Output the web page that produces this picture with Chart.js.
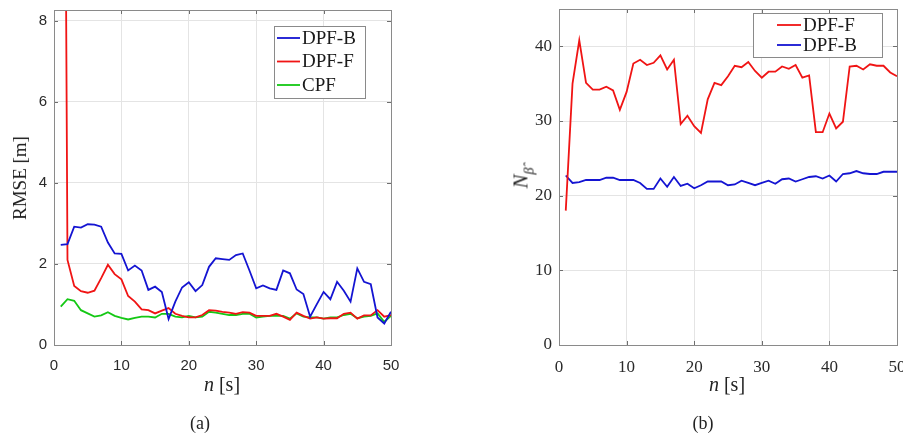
<!DOCTYPE html>
<html>
<head>
<meta charset="utf-8">
<script src="https://cdn.jsdelivr.net/npm/chart.js@4/dist/chart.umd.min.js"></script>
<style>
  html, body { margin:0; padding:0; background:#fff; width:903px; height:434px; overflow:hidden; }
  .panel { position:absolute; top:0; height:400px; }
  .lbl { position:absolute; font-family:"Liberation Serif", serif; color:#222; white-space:nowrap; }
  .it { font-style:italic; }
</style>
</head>
<body>
<div class="panel" style="left:0;width:451px;"><canvas id="cA" width="451" height="400"></canvas></div>
<div class="panel" style="left:451px;width:490px;"><canvas id="cB" width="490" height="400"></canvas></div>

<div class="lbl" style="left:20px;top:178px;font-size:19px;transform:translate(-50%,-50%) rotate(-90deg);">RMSE [m]</div>
<div class="lbl" style="left:222px;top:384px;font-size:20px;transform:translate(-50%,-50%);"><span class="it">n</span> [s]</div>
<div class="lbl" style="left:200px;top:423px;font-size:18px;transform:translate(-50%,-50%);">(a)</div>

<div class="lbl" style="left:521px;top:178px;font-size:21px;transform:translate(-50%,-50%) rotate(-90deg);"><span class="it">N</span><span class="it" style="font-size:14px;position:relative;top:6px;">β̂</span></div>
<div class="lbl" style="left:727px;top:384px;font-size:20px;transform:translate(-50%,-50%);"><span class="it">n</span> [s]</div>
<div class="lbl" style="left:703px;top:423px;font-size:18px;transform:translate(-50%,-50%);">(b)</div>

<script>
// ---------- data ----------
const timeSteps = [1,2,3,4,5,6,7,8,9,10,11,12,13,14,15,16,17,18,19,20,21,22,23,24,25,26,27,28,29,30,31,32,33,34,35,36,37,38,39,40,41,42,43,44,45,46,47,48,49,50];

// (a) RMSE [m]
const rmseDPFB = [2.47,2.49,2.92,2.90,2.98,2.97,2.92,2.53,2.26,2.25,1.84,1.96,1.84,1.36,1.44,1.31,0.64,1.07,1.42,1.55,1.33,1.48,1.93,2.14,2.12,2.10,2.22,2.26,1.84,1.40,1.47,1.40,1.36,1.84,1.77,1.37,1.26,0.70,1.01,1.31,1.13,1.56,1.34,1.07,1.89,1.56,1.50,0.68,0.53,0.82];
const rmseDPFF = [33.0,2.10,1.46,1.33,1.29,1.34,1.65,1.98,1.75,1.62,1.21,1.07,0.88,0.86,0.78,0.85,0.91,0.77,0.72,0.68,0.68,0.74,0.86,0.85,0.82,0.80,0.77,0.81,0.80,0.72,0.72,0.72,0.77,0.70,0.62,0.80,0.72,0.65,0.68,0.65,0.66,0.66,0.77,0.80,0.65,0.73,0.73,0.86,0.70,0.74];
const rmseCPF  = [0.95,1.13,1.09,0.86,0.78,0.70,0.73,0.81,0.72,0.67,0.63,0.67,0.70,0.70,0.68,0.77,0.77,0.70,0.68,0.72,0.68,0.70,0.82,0.80,0.77,0.74,0.74,0.77,0.77,0.68,0.70,0.72,0.72,0.72,0.65,0.78,0.70,0.68,0.68,0.65,0.68,0.68,0.74,0.77,0.66,0.70,0.72,0.78,0.57,0.72];

// (b) N_beta
const nDPFF = [18.0,35.0,40.8,35.1,34.2,34.2,34.6,34.1,31.5,33.9,37.7,38.2,37.5,37.8,38.8,36.9,38.2,29.6,30.7,29.3,28.4,32.9,35.1,34.8,36.0,37.4,37.2,37.9,36.7,35.8,36.6,36.6,37.3,37.0,37.5,35.8,36.1,28.5,28.5,31.0,29.0,29.9,37.3,37.4,36.9,37.6,37.4,37.4,36.5,36.0];
const nDPFB = [22.7,21.7,21.8,22.1,22.1,22.1,22.4,22.4,22.1,22.1,22.1,21.7,20.9,20.9,22.3,21.2,22.5,21.3,21.6,21.0,21.4,21.9,21.9,21.9,21.4,21.5,22.0,21.7,21.4,21.7,22.0,21.6,22.2,22.3,21.9,22.2,22.5,22.6,22.3,22.7,21.9,22.9,23.0,23.3,23.0,22.9,22.9,23.2,23.2,23.2];

const xTicks = [0,10,20,30,40,50];
const yTicksA = [0,2,4,6,8];
const yTicksB = [0,10,20,30,40];

const BLUE = '#1414d2', RED = '#f01414', GREEN = '#14c814';

function pts(vals){ return timeSteps.map((t,i)=>({x:t,y:vals[i]})); }

// box + inward ticks + legend
const boxPlugin = {
  id:'box',
  afterDraw(chart, args, opts){
    const ctx = chart.ctx, a = chart.chartArea;
    const xs = chart.scales.x, ys = chart.scales.y;
    ctx.save();
    ctx.strokeStyle = '#6e6e6e';
    ctx.lineWidth = 1;
    ctx.beginPath();
    opts.xt.forEach(v=>{ const p=Math.round(xs.getPixelForValue(v))+0.5;
      ctx.moveTo(p,a.bottom); ctx.lineTo(p,a.bottom-4);
      ctx.moveTo(p,a.top); ctx.lineTo(p,a.top+4); });
    opts.yt.forEach(v=>{ const p=Math.round(ys.getPixelForValue(v))+0.5;
      ctx.moveTo(a.left,p); ctx.lineTo(a.left+4,p);
      ctx.moveTo(a.right,p); ctx.lineTo(a.right-4,p); });
    ctx.stroke();
    ctx.strokeStyle = '#8a8a8a';
    ctx.strokeRect(Math.round(a.left)+0.5, Math.round(a.top)+0.5, Math.round(a.right-a.left), Math.round(a.bottom-a.top));
    const L = opts.legend;
    ctx.fillStyle = '#fff';
    ctx.fillRect(L.x, L.y, L.w, L.h);
    ctx.strokeStyle = '#8a8a8a';
    ctx.strokeRect(L.x+0.5, L.y+0.5, L.w, L.h);
    ctx.font = L.font;
    ctx.textBaseline = 'middle';
    ctx.textAlign = 'left';
    L.order.forEach((di,k)=>{
      const ds = chart.data.datasets[di];
      const yy = L.y + L.first + k*L.step;
      ctx.strokeStyle = ds.borderColor; ctx.lineWidth = 1.8;
      ctx.beginPath(); ctx.moveTo(L.x+L.lx0, yy); ctx.lineTo(L.x+L.lx1, yy); ctx.stroke();
      ctx.fillStyle = '#1a1a1a';
      ctx.fillText(ds.label, L.x+L.tx, yy+1);
    });
    ctx.restore();
  }
};

function makeChart(id, datasets, yMax, yTicks, tickFont, target, legend){
  const canvas = document.getElementById(id);
  const pad = { left:0, top:target.top, right:canvas.width - target.right, bottom:0 };
  return new Chart(canvas, {
    type:'line',
    data:{ datasets },
    options:{
      responsive:false, animation:false, devicePixelRatio:1,
      layout:{ padding: pad },
      elements:{ point:{ radius:0 }, line:{ tension:0, borderWidth:1.8 } },
      plugins:{ legend:{ display:false }, tooltip:{ enabled:false },
        box:{ xt:xTicks, yt:yTicks, legend } },
      scales:{
        x:{ type:'linear', min:0, max:50,
          afterBuildTicks(s){ s.ticks = xTicks.map(v=>({value:v})); },
          afterFit(s){ s.height = canvas.height - target.bottom; s.paddingLeft = 0; s.paddingRight = 0; },
          grid:{ color:'#e4e4e4', drawTicks:false },
          border:{ display:false },
          ticks:{ padding:12, color:'#2a2a2a', font:tickFont, maxRotation:0 } },
        y:{ type:'linear', min:0, max:yMax,
          afterBuildTicks(s){ s.ticks = yTicks.map(v=>({value:v})); },
          afterFit(s){ s.width = target.left; s.paddingTop = 0; s.paddingBottom = 0; },
          grid:{ color:'#e4e4e4', drawTicks:false },
          border:{ display:false },
          ticks:{ padding:7, color:'#2a2a2a', font:tickFont } }
      }
    },
    plugins:[boxPlugin]
  });
}

makeChart('cA', [
  { label:'DPF-B', data:pts(rmseDPFB), borderColor:BLUE },
  { label:'DPF-F', data:pts(rmseDPFF), borderColor:RED },
  { label:'CPF',   data:pts(rmseCPF),  borderColor:GREEN }
], 8.27, yTicksA, { family:'"Liberation Sans", Arial, sans-serif', size:15 },
  { left:54, top:10, right:391, bottom:345 },
  { x:274, y:26, w:91, h:72, first:12, step:23.5, lx0:3, lx1:26, tx:28, order:[0,1,2], font:'19px "Liberation Serif", serif' });

makeChart('cB', [
  { label:'DPF-F', data:pts(nDPFF), borderColor:RED },
  { label:'DPF-B', data:pts(nDPFB), borderColor:BLUE }
], 45, yTicksB, { family:'"Liberation Serif", serif', size:17 },
  { left:108, top:9, right:446, bottom:345 },
  { x:302, y:13, w:129, h:44, first:12, step:20, lx0:24, lx1:48, tx:50, order:[0,1], font:'19px "Liberation Serif", serif' });
</script>
</body>
</html>
